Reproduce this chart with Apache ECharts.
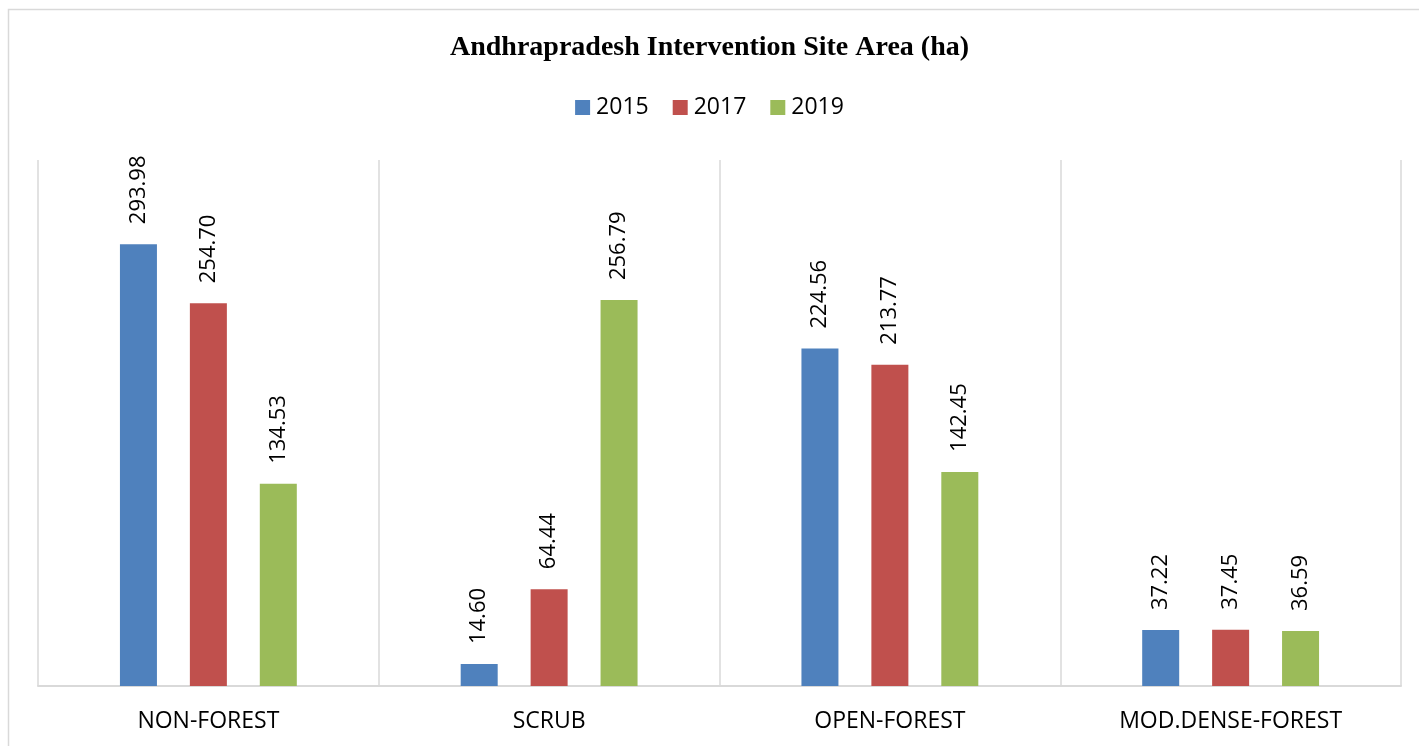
<!DOCTYPE html>
<html>
<head>
<meta charset="utf-8">
<script src="https://cdn.jsdelivr.net/npm/echarts@6/dist/echarts.min.js"></script>
<style>
  html, body { margin: 0; padding: 0; background: #fff; }
  #chart { width: 1419px; height: 746px; }
</style>
</head>
<body>
<div id="chart"></div>
<script>
const categories = ['NON-FOREST', 'SCRUB', 'OPEN-FOREST', 'MOD.DENSE-FOREST'];
const years = ['2015', '2017', '2019'];
const values2015 = [293.98, 14.60, 224.56, 37.22];
const values2017 = [254.70, 64.44, 213.77, 37.45];
const values2019 = [134.53, 256.79, 142.45, 36.59];
const colors = ['#4f81bd', '#c0504d', '#9bbb59'];

const seriesData = [values2015, values2017, values2019];

let chart = echarts.init(document.getElementById('chart'));

const labelFont = 'Open Sans';

chart.setOption({
    animation: false,
    color: colors,
    title: {
        text: 'Andhrapradesh Intervention Site Area (ha)',
        left: 'center',
        top: 29,
        textStyle: {
            fontFamily: 'Liberation Serif',
            fontWeight: 'bold',
            fontSize: 28,
            color: '#000'
        }
    },
    legend: {
        data: years,
        top: 91,
        left: 'center',
        itemWidth: 15,
        itemHeight: 15,
        itemGap: 24,
        icon: 'rect',
        textStyle: { fontFamily: labelFont, fontSize: 23, color: '#000', padding: [0, 0, 0, 1] }
    },
    grid: { left: 38, right: 18, top: 160, bottom: 60 },
    xAxis: {
        type: 'category',
        data: categories,
        axisLine: { lineStyle: { color: '#d9d9d9', width: 2 } },
        axisTick: { show: false },
        splitLine: { show: true, lineStyle: { color: '#d9d9d9', width: 1.5 } },
        axisLabel: { fontFamily: labelFont, fontSize: 23, color: '#000', margin: 24 }
    },
    yAxis: {
        type: 'value',
        min: 0,
        max: 350,
        show: false,
        splitLine: { show: false }
    },
    graphic: [{
        type: 'rect',
        shape: { x: 8.5, y: 9.5, width: 1440, height: 780 },
        style: { fill: 'none', stroke: '#d9d9d9', lineWidth: 1.5 },
        silent: true
    }],
    series: years.map((y, i) => ({
        name: y,
        type: 'bar',
        data: seriesData[i],
        barWidth: 37,
        barGap: '89%',
        label: {
            show: true,
            position: 'top',
            rotate: 90,
            align: 'left',
            verticalAlign: 'middle',
            distance: 20,
            formatter: p => p.value.toFixed(2),
            fontFamily: labelFont,
            fontSize: 22,
            color: '#000'
        }
    }))
});
</script>
</body>
</html>
